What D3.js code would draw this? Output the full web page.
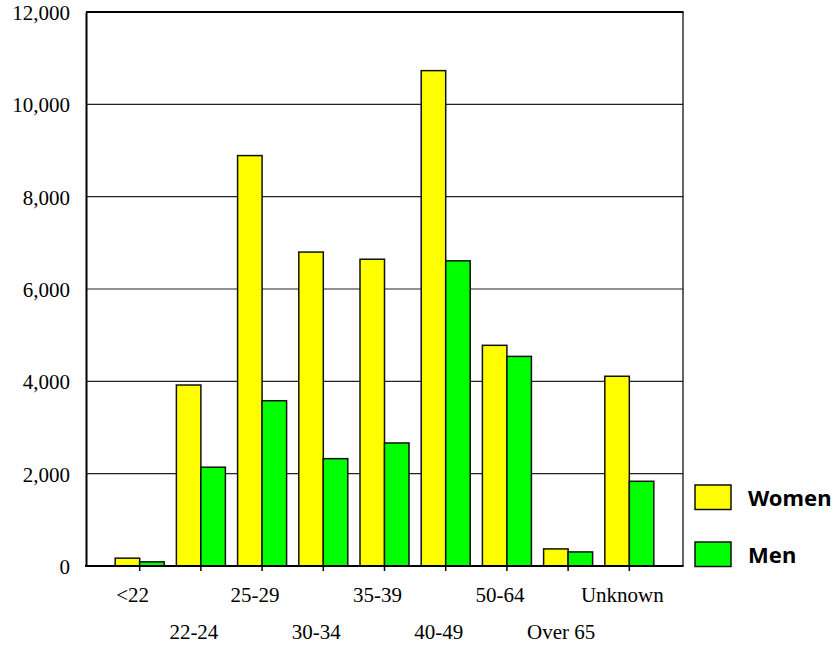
<!DOCTYPE html>
<html>
<head>
<meta charset="utf-8">
<script src="https://cdn.jsdelivr.net/npm/d3@7"></script>
<style>
  html, body { margin: 0; padding: 0; background: #fff; }
  svg { display: block; }
</style>
</head>
<body>
<svg id="chart" width="835" height="646"></svg>
<script>
const categories = ["<22", "22-24", "25-29", "30-34", "35-39", "40-49", "50-64", "Over 65", "Unknown"];
const women = [170, 3920, 8890, 6800, 6645, 10730, 4780, 370, 4110];
const men = [90, 2140, 3580, 2325, 2665, 6610, 4540, 305, 1835];
const seriesNames = ["Women", "Men"];
const seriesColors = ["#ffff00", "#00ff00"];
const yTicks = [0, 2000, 4000, 6000, 8000, 10000, 12000];

(function () {
const svg = d3.select("#chart");
const pL = 86, pR = 683, pT = 12, pB = 566;

const x = d3.scaleBand().domain(categories).range([pL, pR]).paddingInner(0).paddingOuter(0.377);
const y = d3.scaleLinear().domain([0, 12000]).range([pB, pT]);
const barW = 24.5;

svg.append("g").selectAll("line").data(yTicks.filter(d => d > 0 && d < 12000)).join("line")
  .attr("x1", pL).attr("x2", pR)
  .attr("y1", d => y(d)).attr("y2", d => y(d))
  .attr("stroke", "#222").attr("stroke-width", 1.2);

svg.append("line").attr("x1", pR).attr("x2", pR).attr("y1", pT).attr("y2", pB)
  .attr("stroke", "#111").attr("stroke-width", 1.3);
svg.append("line").attr("x1", pL).attr("x2", pR + 0.6).attr("y1", pT).attr("y2", pT)
  .attr("stroke", "#000").attr("stroke-width", 2);

const data = [women, men];
data.forEach((vals, si) => {
  svg.append("g").selectAll("rect").data(categories).join("rect")
    .attr("x", (c) => x(c) + x.bandwidth() / 2 + (si === 0 ? -barW : 0))
    .attr("y", (c, i) => y(vals[i]))
    .attr("width", barW)
    .attr("height", (c, i) => pB - y(vals[i]))
    .attr("fill", seriesColors[si])
    .attr("stroke", "#111").attr("stroke-width", 1.5);
});

const yAxis = d3.axisLeft(y).tickValues(yTicks).tickSize(0).tickPadding(16)
  .tickFormat(d3.format(","));
const gy = svg.append("g").attr("transform", `translate(${pL},0)`).call(yAxis);
gy.select(".domain").attr("stroke", "#000").attr("stroke-width", 2);
gy.selectAll("text").attr("font-family", "Liberation Serif, Times New Roman, serif")
  .attr("font-size", 21).attr("fill", "#000").attr("dy", "0.35em");

const xAxis = d3.axisBottom(x).tickSize(5).tickSizeOuter(0).tickFormat("");
const gx = svg.append("g").attr("transform", `translate(0,${pB})`).call(xAxis);
gx.select(".domain").attr("stroke", "#000").attr("stroke-width", 2).attr("d", `M${pL - 1},0H${pR + 0.6}`);
gx.selectAll(".tick line").attr("stroke", "#000").attr("stroke-width", 1.5);

svg.append("g").selectAll("text").data(categories).join("text")
  .attr("x", c => x(c) + x.bandwidth() / 2 - 7)
  .attr("y", (c, i) => i % 2 === 0 ? 602 : 639)
  .attr("text-anchor", "middle")
  .attr("font-family", "Liberation Serif, Times New Roman, serif")
  .attr("font-size", 21).attr("fill", "#000")
  .text(c => c);

const legY = [485, 542];
seriesNames.forEach((n, i) => {
  svg.append("rect").attr("x", 695).attr("y", legY[i]).attr("width", 36).attr("height", 24.5)
    .attr("fill", seriesColors[i]).attr("stroke", "#111").attr("stroke-width", 1.5);
  svg.append("text").attr("x", 748).attr("y", legY[i] + 20.5)
    .attr("font-family", "Noto Sans, sans-serif").attr("font-weight", "bold")
    .attr("font-size", 22).attr("fill", "#000").text(n);
});
})();
</script>
</body>
</html>
